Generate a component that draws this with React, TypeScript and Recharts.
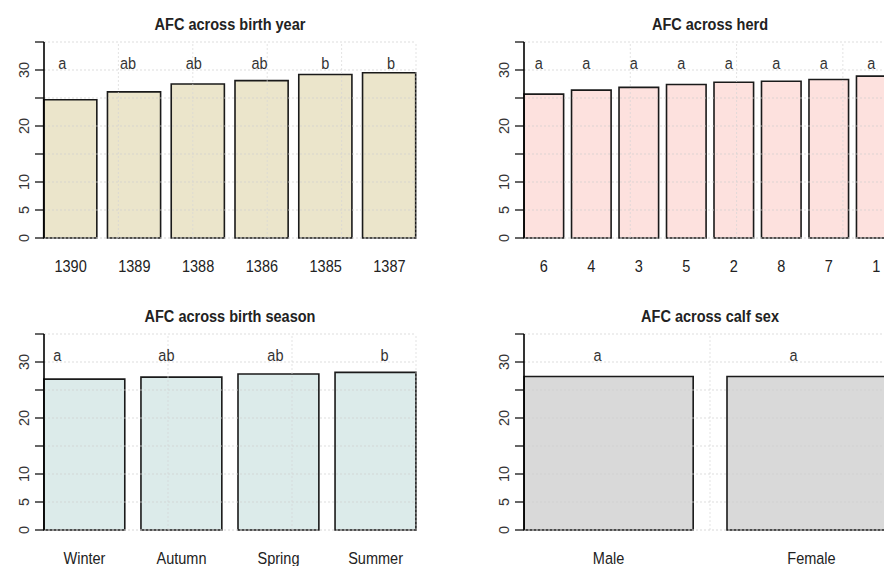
import React from "react";
import {
  ComposedChart,
  Bar,
  XAxis,
  YAxis,
  LabelList,
  ReferenceLine,
} from "recharts";

// AFC means by group, with the letter groupings from the post-hoc test
const years = ["1390", "1389", "1388", "1386", "1385", "1387"];
const yearAfc = [24.7, 26.1, 27.5, 28.1, 29.2, 29.5];
const yearLetters = ["a", "ab", "ab", "ab", "b", "b"];

const herds = ["6", "4", "3", "5", "2", "8", "7", "1"];
const herdAfc = [25.7, 26.4, 26.9, 27.4, 27.8, 28.0, 28.3, 28.9];
const herdLetters = ["a", "a", "a", "a", "a", "a", "a", "a"];

const seasons = ["Winter", "Autumn", "Spring", "Summer"];
const seasonAfc = [26.95, 27.3, 27.85, 28.15];
const seasonLetters = ["a", "ab", "ab", "b"];

const sexes = ["Male", "Female"];
const sexAfc = [27.4, 27.4];
const sexLetters = ["a", "a"];

const yTicks = [0, 5, 10, 15, 20, 25, 30, 35];
const yLabelled = [0, 5, 10, 20, 30];

// vertical grid positions, in bar-width units
const yearGrid = [1, 2, 3, 4, 5, 6, 7];
const herdGrid = [2, 4, 6, 8];
const seasonGrid = [1, 2, 3, 4];
const sexGrid = [0.5, 1, 1.5, 2];

const LETTER_LEVEL = 31.25;

const AXIS_W = 44;
const PLOT_W = 372;
const PLOT_H = 196;
const TOP = 42;
const CHART_W = AXIS_W + PLOT_W + 20;
const CHART_H = TOP + PLOT_H + 40;
const FONT = '"Liberation Sans", Arial, sans-serif';
const SQUEEZE = 0.88;

const YTick = (props: any) => {
  const { x, y, payload } = props;
  if (!yLabelled.includes(payload.value)) return null;
  return (
    <text
      transform={`translate(${x - 11},${y}) rotate(-90)`}
      textAnchor="middle"
      dominantBaseline="central"
      fontFamily={FONT}
      fontSize={14.5}
      fill="#333"
    >
      {payload.value}
    </text>
  );
};

const XTick = (props: any) => {
  const { x, y, payload } = props;
  return (
    <text
      transform={`translate(${x},${y + 34}) scale(${SQUEEZE},1)`}
      textAnchor="middle"
      fontFamily={FONT}
      fontSize={16.5}
      fill="#222"
    >
      {payload.value}
    </text>
  );
};

interface PanelProps {
  title: string;
  cats: string[];
  values: number[];
  letters: string[];
  fill: string;
  grid: number[];
  letterDx: (i: number) => number;
  left: number;
  top: number;
}

const Panel: React.FC<PanelProps> = ({
  title,
  cats,
  values,
  letters,
  fill,
  grid,
  letterDx,
  left,
  top,
}) => {
  const data = cats.map((cat, i) => ({
    cat,
    afc: values[i],
    letter: letters[i],
  }));
  const n = cats.length;
  // barplot layout: bar width 1, space 0.2 before each bar
  const span = n * 1.2 - 0.2;
  const unit = PLOT_W / span;
  const gap = unit * 0.2;

  const letterLabel = (props: any) => {
    const vb = props.viewBox || props;
    const i = props.index ?? 0;
    const bottom = vb.y + vb.height;
    const perUnit = vb.height / values[i];
    const cy = bottom - LETTER_LEVEL * perUnit;
    const cx = vb.x + vb.width / 2 + letterDx(i);
    return (
      <text
        transform={`translate(${cx},${cy}) scale(${SQUEEZE},1)`}
        textAnchor="middle"
        dominantBaseline="central"
        fontFamily={FONT}
        fontSize={16.5}
        fill="#333"
      >
        {props.value}
      </text>
    );
  };

  return (
    <div style={{ position: "absolute", left, top, width: CHART_W, height: CHART_H }}>
      <svg
        width={CHART_W}
        height={40}
        style={{ position: "absolute", left: 0, top: 0 }}
      >
        <text
          transform={`translate(${AXIS_W + PLOT_W / 2},29.5) scale(${SQUEEZE},1)`}
          textAnchor="middle"
          fontFamily={FONT}
          fontWeight="bold"
          fontSize={16.5}
          fill="#222"
        >
          {title}
        </text>
      </svg>
      <ComposedChart
        width={CHART_W}
        height={CHART_H}
        data={data}
        margin={{ top: TOP, right: 20, bottom: 0, left: 0 }}
      >
        <XAxis
          dataKey="cat"
          padding={{ left: -gap / 2, right: -gap / 2 }}
          axisLine={false}
          tickLine={false}
          tickSize={0}
          tickMargin={0}
          height={40}
          interval={0}
          tick={XTick}
        />
        <XAxis
          xAxisId="u"
          type="number"
          domain={[0.2, n * 1.2]}
          allowDataOverflow
          hide
        />
        <YAxis
          domain={[0, 35]}
          ticks={yTicks}
          interval={0}
          width={AXIS_W}
          tickSize={9}
          tickMargin={0}
          axisLine={{ stroke: "#000", strokeWidth: 1.6 }}
          tickLine={{ stroke: "#000", strokeWidth: 1.2 }}
          tick={YTick}
        />
        <Bar
          dataKey="afc"
          fill={fill}
          stroke="#1a1a1a"
          strokeWidth={1.6}
          barSize={unit}
          isAnimationActive={false}
        >
          <LabelList dataKey="letter" content={letterLabel} />
        </Bar>
        {/* dotted grid drawn over the bars */}
        {yTicks.map((v) => (
          <ReferenceLine
            key={`h${v}`}
            y={v}
            stroke={v === 0 ? "#d8d8d8" : "#cfcfcf"}
            strokeOpacity={v === 0 ? 1 : 0.7}
            strokeDasharray="2 2"
          />
        ))}
        {grid.map((t) => (
          <ReferenceLine
            key={`v${t}`}
            x={t}
            xAxisId="u"
            stroke="#d4d4d4"
            strokeOpacity={0.65}
            strokeDasharray="2 2"
          />
        ))}
      </ComposedChart>
    </div>
  );
};

export default function App() {
  return (
    <div
      style={{
        position: "absolute",
        left: 0,
        top: 0,
        width: 884,
        height: 566,
        overflow: "hidden",
        background: "#fff",
      }}
    >
      <Panel
        title="AFC across birth year"
        cats={years}
        values={yearAfc}
        letters={yearLetters}
        fill="#ebe5cb"
        grid={yearGrid}
        letterDx={(i) => -8 + 2 * i}
        left={0}
        top={0}
      />
      <Panel
        title="AFC across herd"
        cats={herds}
        values={herdAfc}
        letters={herdLetters}
        fill="#fde1de"
        grid={herdGrid}
        letterDx={() => -5}
        left={480}
        top={0}
      />
      <Panel
        title="AFC across birth season"
        cats={seasons}
        values={seasonAfc}
        letters={seasonLetters}
        fill="#dcebea"
        grid={seasonGrid}
        letterDx={(i) => -27 + 12 * i}
        left={0}
        top={292}
      />
      <Panel
        title="AFC across calf sex"
        cats={sexes}
        values={sexAfc}
        letters={sexLetters}
        fill="#d9d9d9"
        grid={sexGrid}
        letterDx={(i) => -11 - 7 * i}
        left={480}
        top={292}
      />
    </div>
  );
}
